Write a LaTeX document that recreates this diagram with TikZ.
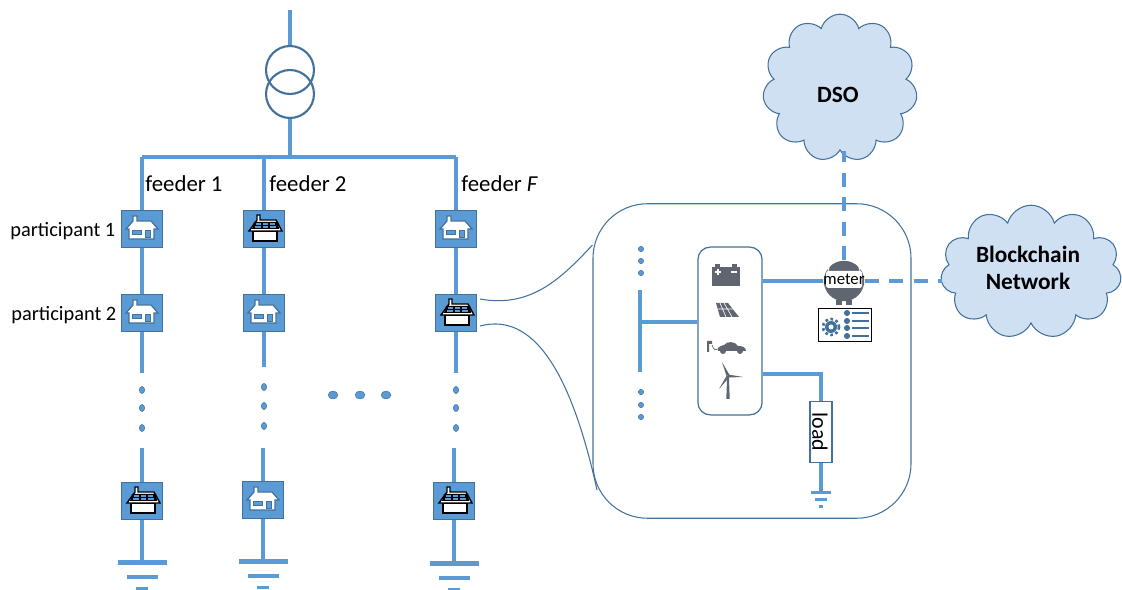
\documentclass[tikz,border=0pt]{standalone}
\usepackage{fontspec}
\setmainfont{Carlito}
\usetikzlibrary{shapes.symbols, shapes.geometric}

\definecolor{wire}{HTML}{5B9BD5}
\definecolor{edge}{HTML}{41719C}
\definecolor{cloudfill}{HTML}{CFE0F3}
\definecolor{icon}{HTML}{5F6670}

\tikzset{
    wireline/.style={draw=wire, line width=2.3pt},
    dashline/.style={draw=wire, line width=2.3pt, dash pattern=on 8pt off 6pt},
    thinline/.style={draw=edge, line width=0.6pt},
    housebox/.style={draw=edge, fill=wire, line width=0.7pt, minimum width=23pt, minimum height=21pt, inner sep=0pt},
    dotnode/.style={draw=edge, fill=wire, ellipse, line width=0.3pt, minimum width=3pt, minimum height=4pt, inner sep=0pt},
    smalldot/.style={draw=edge, fill=wire, ellipse, line width=0.3pt, minimum width=3pt, minimum height=3pt, inner sep=0pt},
    bigdot/.style={draw=edge, fill=wire, ellipse, line width=0.3pt, minimum width=5.5pt, minimum height=4.5pt, inner sep=0pt},
    cloudnode/.style={draw=edge, fill=cloudfill, cloud, cloud puffs=11, line width=0.6pt, inner sep=0pt},
    cloudtxt/.style={align=center, font=\fontsize{13.3}{15}\selectfont\bfseries, inner sep=0pt},
    lbl/.style={inner sep=0pt, font=\fontsize{13}{15}\selectfont},
    smalllbl/.style={inner sep=0pt, font=\fontsize{11.6}{13}\selectfont},
    plainhouse/.pic={
        \draw[edge, fill=white, line width=0.7pt] (-9,-8) -- (-9,-13) -- (-5,-13) -- (-5,-8) -- (9,-8) -- (16,0) -- (12,0) -- (12,10) -- (-13,10) -- (-13,0) -- (-16,0) -- cycle;
        \draw[edge, fill=wire, line width=0.4pt] (-10,1) rectangle (-1,5);
        \draw[edge, fill=wire, line width=0.4pt] (3,1) rectangle (8,8);
    },
    solarhouse/.pic={
        \draw[black, fill=white, line width=0.8pt] (-11,2) rectangle (13,12);
        \draw[black, fill=white, line width=0.8pt] (-7,-9) -- (-7,-14) -- (-4,-14) -- (-4,-9) -- (12,-9) -- (18,2) -- (-15,2) -- cycle;
        \fill[black] (-10,-7) -- (14,-7) -- (15,0) -- (-12,0) -- cycle;
        \fill[wire] (-8,-6) rectangle (-3,-4);
        \fill[wire] (-1,-6) rectangle (4,-4);
        \fill[wire] (6,-6) rectangle (11,-4);
        \fill[wire] (-9,-3) rectangle (-3,-1);
        \fill[wire] (-1,-3) rectangle (4,-1);
        \fill[wire] (6,-3) rectangle (12,-1);
    },
    groundbars/.pic={
        \fill[wire] (-24.5,-2.5) rectangle (24.5,2.5);
        \fill[wire] (-15.5,12.5) rectangle (15.5,16.5);
        \fill[wire] (-6,24) rectangle (6,27);
    },
    smallground/.pic={
        \fill[wire] (-10,-1.5) rectangle (10,1.5);
        \fill[wire] (-6,5.5) rectangle (6,8);
        \fill[wire] (-2,12.5) rectangle (2,15);
    },
    batteryicon/.pic={
        \fill[icon] (-14,-8) rectangle (14,11);
        \fill[icon] (-11,-11) rectangle (-6,-8);
        \fill[icon] (6,-11) rectangle (11,-8);
        \draw[white, line width=0.6pt] (-11,-3) -- (-5,-3) (-8,-6) -- (-8,0) (5,-3) -- (11,-3);
    },
    panelicon/.pic={
        \fill[icon] (-11,-7) -- (1,-7) -- (12,7) -- (-7,7) -- cycle;
        \draw[white, line width=0.35pt] (-7,-7) -- (-1,7) (-3,-7) -- (5,7) (-9,-1) -- (6,-1);
    },
    evicon/.pic={
        \fill[icon] (-21,-6) -- (-16,-6) -- (-16,-3) -- (-19,-3) -- (-19,5) -- (-21,5) -- cycle;
        \draw[icon, line width=0.4pt] (-16,-2) .. controls (-14,4) and (-12,3) .. (-10,2);
        \fill[icon] (-10,1) .. controls (-9,-1) and (-6,-1) .. (-4,-2) .. controls (-1,-6) and (7,-6) .. (10,-1) .. controls (14,-1) and (18,0) .. (18,4) -- (-10,4) -- cycle;
        \fill[icon] (-5,4) circle (3);
        \fill[icon] (12,4) circle (3);
    },
    turbineicon/.pic={
        \fill[icon] (-0.9,0) -- (0.9,0) -- (1.7,23) -- (-1.7,23) -- cycle;
        \fill[icon] (-1.5,0) -- (-6,-14) -- (1.5,-1) -- cycle;
        \fill[icon] (0,-1.5) -- (15,1) -- (0,1.5) -- cycle;
        \fill[icon] (-1.5,0) -- (-9,13) -- (1.5,1) -- cycle;
    },
    listicon/.pic={
        \node[draw=edge, fill=edge, circle, inner sep=0pt, minimum size=3pt] at (-7,0) {};
        \fill[edge] (-2,-1) rectangle (15,1);
    },
}

\begin{document}
\begin{tikzpicture}[x=0.02cm, y=-0.02cm]
    \useasboundingbox (0,0) rectangle (1122,590);

    % grid side
    \coordinate (top) at (290,10);
    \coordinate (trafo_out) at (290,157);
    \coordinate (bus_l) at (142,157);
    \coordinate (bus_m) at (264,157);
    \coordinate (bus_r) at (456,157);

    \node[housebox] (p11) at (142,229) {};
    \node[housebox] (p12) at (142,313) {};
    \node[housebox] (p1n) at (142,501) {};
    \node[housebox] (p21) at (264,229) {};
    \node[housebox] (p22) at (264,313) {};
    \node[housebox] (p2n) at (263,500) {};
    \node[housebox] (p31) at (456,229) {};
    \node[housebox] (p32) at (456,313) {};
    \node[housebox] (p3n) at (454,501) {};

    \draw[wireline] (top) -- (trafo_out);
    \node[circle, fill=white, minimum size=27.3pt, inner sep=0pt] at (290,70) {};
    \node[circle, fill=white, minimum size=27.3pt, inner sep=0pt] at (290,94) {};
    \node[circle, draw=edge, line width=1.2pt, minimum size=27.3pt, inner sep=0pt] (trafo1) at (290,70) {};
    \node[circle, draw=edge, line width=1.2pt, minimum size=27.3pt, inner sep=0pt] (trafo2) at (290,94) {};
    \draw[wireline] (bus_l) -- (bus_r);

    \draw[wireline] (bus_l) -- (p11);
    \draw[wireline] (bus_m) -- (p21);
    \draw[wireline] (bus_r) -- (p31);
    \draw[wireline] (p11) -- (p12);
    \draw[wireline] (p21) -- (p22);
    \draw[wireline] (p31) -- (p32);

    \coordinate (s1a) at (142,373);
    \coordinate (s1b) at (142,448);
    \coordinate (s2a) at (264,367);
    \coordinate (s2b) at (263,448);
    \coordinate (s3a) at (456,373);
    \coordinate (s3b) at (454,448);
    \draw[wireline] (p12) -- (s1a);
    \draw[wireline] (p22) -- (s2a);
    \draw[wireline] (p32) -- (s3a);
    \draw[wireline] (s1b) -- (p1n);
    \draw[wireline] (s2b) -- (p2n);
    \draw[wireline] (s3b) -- (p3n);

    \node[dotnode] (d11) at (142,390) {};
    \node[dotnode] (d12) at (142,408) {};
    \node[dotnode] (d13) at (142,428) {};
    \node[dotnode] (d21) at (264,387) {};
    \node[dotnode] (d22) at (264,406) {};
    \node[dotnode] (d23) at (264,426) {};
    \node[dotnode] (d31) at (456,390) {};
    \node[dotnode] (d32) at (456,408) {};
    \node[dotnode] (d33) at (456,428) {};
    \node[bigdot] (m1) at (333,395) {};
    \node[bigdot] (m2) at (360,395) {};
    \node[bigdot] (m3) at (386,395) {};

    \coordinate (g1) at (142,563);
    \coordinate (g2) at (263,562);
    \coordinate (g3) at (454,564);
    \draw[wireline] (p1n) -- (g1);
    \draw[wireline] (p2n) -- (g2);
    \draw[wireline] (p3n) -- (g3);
    \pic at (g1) {groundbars};
    \pic at (g2) {groundbars};
    \pic at (g3) {groundbars};

    \pic at (p11) {plainhouse};
    \pic at (p12) {plainhouse};
    \pic at (p1n) {solarhouse};
    \pic at (p21) {solarhouse};
    \pic at (p22) {plainhouse};
    \pic at (p2n) {plainhouse};
    \pic at (p31) {plainhouse};
    \pic at (p32) {solarhouse};
    \pic at (p3n) {solarhouse};

    \node[lbl, anchor=west] (f1) at (145,184) {feeder 1};
    \node[lbl, anchor=west] (f2) at (269,184) {feeder 2};
    \node[lbl, anchor=west] (f3) at (461,184) {feeder \textit{F}};
    \node[smalllbl, anchor=west] (n1) at (10,231) {participant 1};
    \node[smalllbl, anchor=west] (n2) at (11,315) {participant 2};

    % inset
    \node[thinline, draw, rectangle, rounded corners=31pt, minimum width=181pt, minimum height=179pt] (inset) at (752,361) {};
    \coordinate (zoom_a) at (480,299);
    \coordinate (zoom_b) at (480,326);
    \draw[thinline] (zoom_a) .. controls (530,308) and (560,280) .. (inset.west |- 0,245);
    \draw[thinline] (zoom_b) .. controls (540,310) and (575,390) .. (597,490);

    \coordinate (ibus_t) at (640,290);
    \coordinate (ibus_m) at (640,322);
    \coordinate (ibus_b) at (640,372);
    \draw[wireline] (ibus_t) -- (ibus_b);
    \node[smalldot] (i1) at (641,249) {};
    \node[smalldot] (i2) at (641,261) {};
    \node[smalldot] (i3) at (641,273) {};
    \node[smalldot] (i4) at (641,392) {};
    \node[smalldot] (i5) at (641,405) {};
    \node[smalldot] (i6) at (641,417) {};

    \node[draw=edge, fill=white, rectangle, rounded corners=7pt, line width=0.7pt, minimum width=36.5pt, minimum height=95.5pt, inner sep=0pt] (der) at (730,331) {};
    \draw[wireline] (ibus_m) -- (ibus_m -| der.west);

    \pic at (726,275) {batteryicon};
    \pic at (727,310) {panelicon};
    \pic at (728,347) {evicon};
    \pic at (728,376) {turbineicon};

    \node[draw=none, fill=icon, circle, minimum size=23pt, inner sep=0pt] (meter) at (844,281) {};
    \fill[icon] (836,300) rectangle (842,305);
    \fill[icon] (846,300) rectangle (852,305);
    \fill[white, rounded corners=1pt] (826,271) rectangle (862,288);
    \draw[white, line width=0.6pt] (828,272) arc[start angle=180, end angle=0, x radius=16, y radius=-14];
    \node[font=\fontsize{9.5}{11}\selectfont, inner sep=0pt] (metertxt) at (844,279) {meter};

    \coordinate (der_top) at (der.east |- 0,281);
    \coordinate (der_low) at (der.east |- 0,374);
    \coordinate (load_top) at (821,374);
    \draw[wireline] (der_top) -- (meter.west);

    \node[draw=edge, fill=white, line width=0.7pt, minimum width=12.5pt, minimum height=35pt, inner sep=0pt] (load) at (821,432) {};
    \node[rotate=-90, inner sep=0pt, font=\fontsize{12.5}{15}\selectfont] (loadtxt) at (820,432) {load};
    \coordinate (lg) at (821,493);
    \draw[wireline] (der_low) -- (load_top) -- (load);
    \draw[wireline] (load) -- (lg);
    \pic at (lg) {smallground};

    \node[draw=black, fill=white, line width=0.7pt, minimum width=30.5pt, minimum height=19pt, inner sep=0pt] (config) at (845,325) {};
    \fill[edge] (831,327) circle (6);
    \fill[white] (831,327) circle (2.5);
    \draw[edge, line width=1.5pt, dash pattern=on 1.5pt off 1.5pt] (831,327) circle (8);
    \pic at (854,313) {listicon};
    \pic at (854,321) {listicon};
    \pic at (854,328) {listicon};
    \pic at (854,336) {listicon};

    % clouds
    \node[cloudnode, aspect=1.05, minimum width=88pt, minimum height=84pt] (dso) at (840,88) {};
    \node[cloudnode, aspect=1.35, minimum width=103pt, minimum height=76pt] (chain) at (1031,272) {};
    \node[cloudtxt] (dso_txt) at (838,95) {DSO};
    \node[cloudtxt] (chain_txt) at (1028,268) {Blockchain\\Network};
    \draw[dashline] (meter.north) -- (meter.north |- dso.south);
    \draw[dashline] (meter.east) -- (meter.east -| chain.west);
\end{tikzpicture}
\end{document}
